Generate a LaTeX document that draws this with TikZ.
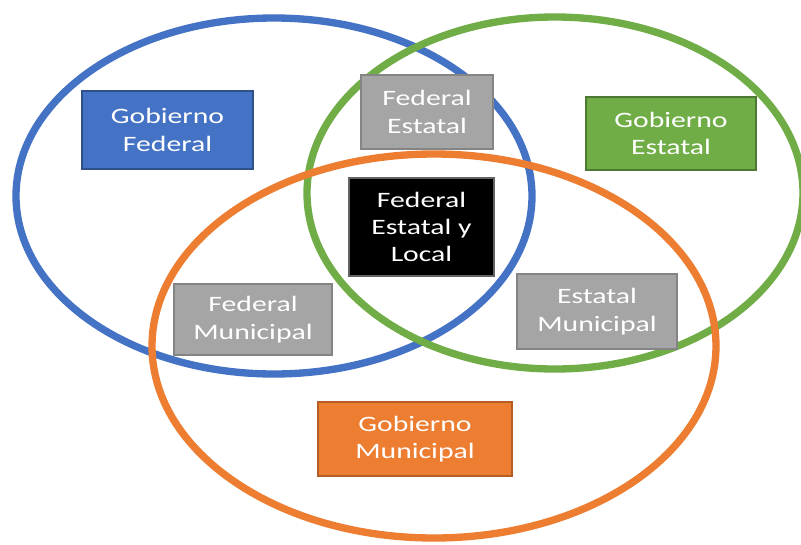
\documentclass[tikz,border=0pt]{standalone}
\usepackage{fontspec}
\newfontfamily\cajafont{Carlito}[FakeStretch=1.35]
\definecolor{azul}{RGB}{68,114,196}
\definecolor{verde}{RGB}{112,173,71}
\definecolor{naranja}{RGB}{237,125,49}
\definecolor{gris}{RGB}{165,165,165}
\tikzset{
  anillo/.style={line width=5.5pt},
  caja/.style={rectangle, draw, line width=0.9pt, text=white, align=center,
    inner sep=0pt, font=\cajafont\fontsize{16.5}{20.5}\selectfont},
}

\begin{document}
\begin{tikzpicture}[x=0.75pt,y=0.75pt,yscale=-1,xscale=1]
    \useasboundingbox (0,0) rectangle (801,544);

    %Shape: Ellipse [Gobierno Federal]
    \draw [anillo, color=azul] (274,196) ellipse [x radius=258, y radius=178];
    %Shape: Ellipse [Gobierno Estatal]
    \draw [anillo, color=verde] (555,193) ellipse [x radius=248, y radius=176];
    %Shape: Ellipse [Gobierno Municipal]
    \draw [anillo, color=naranja] (434,346) ellipse [x radius=282, y radius=192];

    % Text Node
    \node (federal) [caja, fill=azul, draw=azul!70!black, minimum width=171*0.75pt, minimum height=78*0.75pt] at (167.5,130) {Gobierno\\Federal};
    % Text Node
    \node (fedest) [caja, fill=gris, draw=gris!80!black, minimum width=132*0.75pt, minimum height=74*0.75pt] at (427,112) {Federal\\Estatal};
    % Text Node
    \node (estatal) [caja, fill=verde, draw=verde!70!black, minimum width=170*0.75pt, minimum height=73*0.75pt] at (671,133.5) {Gobierno\\Estatal};
    % Text Node
    \node (todos) [caja, fill=black, draw=gris!60!black, minimum width=145*0.75pt, minimum height=98*0.75pt] at (421.5,227) {Federal\\Estatal y\\Local};
    % Text Node
    \node (fedmun) [caja, fill=gris, draw=gris!80!black, minimum width=158*0.75pt, minimum height=71*0.75pt] at (253,319.5) {Federal\\Municipal};
    % Text Node
    \node (estmun) [caja, fill=gris, draw=gris!80!black, minimum width=160*0.75pt, minimum height=75*0.75pt] at (597,311.5) {Estatal\\Municipal};
    % Text Node
    \node (municipal) [caja, fill=naranja, draw=naranja!75!black, minimum width=194*0.75pt, minimum height=74*0.75pt] at (415,439) {Gobierno\\Municipal};

\end{tikzpicture}
\end{document}
